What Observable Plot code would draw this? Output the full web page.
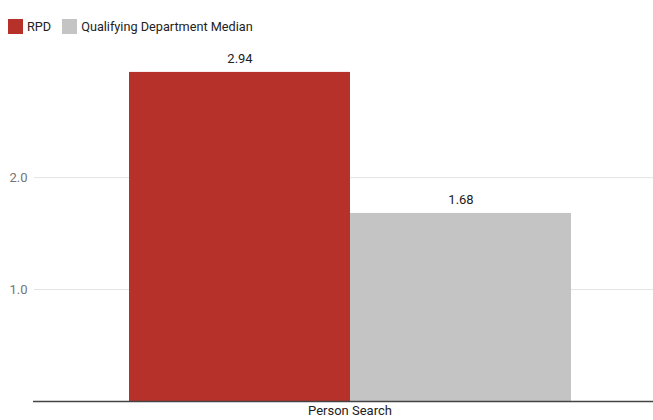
<!DOCTYPE html>
<html>
<head>
<meta charset="utf-8">
<script src="https://cdn.jsdelivr.net/npm/d3@7"></script>
<script src="https://cdn.jsdelivr.net/npm/@observablehq/plot@0.6"></script>
<style>
  html, body { margin: 0; padding: 0; background: #fff; }
  body { width: 653px; height: 420px; overflow: hidden; font-family: Roboto, "Noto Sans", sans-serif; }
  #legend { height: 40px; box-sizing: border-box; padding-top: 13px; padding-left: 8px; display: flex; align-items: center; font-size: 12.7px; color: #222; line-height: 15px; }
  .item { display: flex; align-items: center; margin-right: 11px; }
  .sw { width: 15px; height: 15px; margin-right: 4px; display: inline-block; }
  #chart svg { display: block; }
</style>
</head>
<body>
<div id="legend"></div>
<div id="chart"></div>
<script>
const category = "Person Search";
const series = ["RPD", "Qualifying Department Median"];
const values = [2.94, 1.68];
const colors = ["#b7312b", "#c4c4c4"];
const yTicks = [1, 2];

const data = series.map((s, i) => ({category, series: s, value: values[i]}));

const legend = document.getElementById("legend");
series.forEach((s, i) => {
  const it = document.createElement("span");
  it.className = "item";
  const sw = document.createElement("span");
  sw.className = "sw";
  sw.style.background = colors[i];
  it.appendChild(sw);
  it.appendChild(document.createTextNode(s));
  legend.appendChild(it);
});

const chart = Plot.plot({
  width: 653,
  height: 380,
  marginLeft: 128,
  marginRight: 82,
  marginTop: 14,
  marginBottom: 19,
  style: {fontFamily: "Roboto, 'Noto Sans', sans-serif", fontSize: "13px", background: "#fff"},
  x: {domain: series, padding: 0, axis: null},
  y: {domain: [0, 3.1], axis: null},
  color: {domain: series, range: colors},
  marks: [
    Plot.ruleY(yTicks, {stroke: "#e3e3e3", strokeWidth: 1, insetLeft: -94, insetRight: -82}),
    Plot.axisY({ticks: yTicks, tickSize: 0, tickPadding: 101, tickFormat: d3.format(".1f"), label: null, fill: "#757575", fontSize: 13}),
    Plot.barY(data, {x: "series", y: "value", fill: "series"}),
    Plot.text(data, {x: "series", y: "value", text: d => d3.format(".2f")(d.value), dy: -14, fill: "#222", fontSize: 13}),
    Plot.ruleY([0], {stroke: "#444", strokeWidth: 1.5, insetLeft: -95, insetRight: -82}),
    Plot.text([category], {text: d => d, frameAnchor: "bottom", dy: 13, fill: "#222", fontSize: 13})
  ]
});
document.getElementById("chart").appendChild(chart);
</script>
</body>
</html>
